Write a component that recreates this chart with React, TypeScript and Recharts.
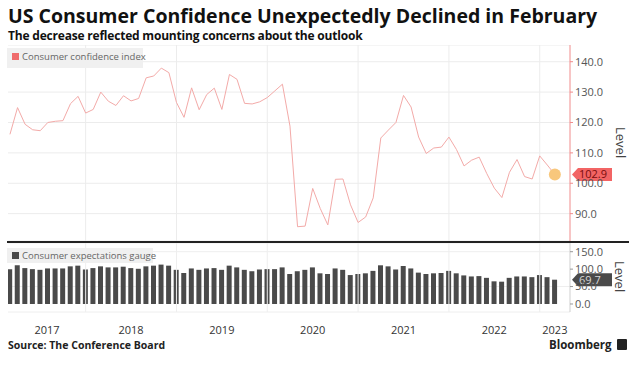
import React from 'react';
import {
    LineChart,
    Line,
    BarChart,
    Bar,
    XAxis,
    YAxis,
    CartesianGrid,
    ReferenceLine,
    ReferenceDot,
} from 'recharts';

// monthly, Feb 2017 .. Feb 2023
const confidence = [
    116.1, 124.9, 119.4, 117.6, 117.3, 120.0, 120.4, 120.6, 126.2, 128.6, 123.1,
    124.3, 130.0, 127.0, 125.6, 128.8, 127.1, 127.9, 134.7, 135.3, 137.9, 136.4, 126.6,
    121.7, 131.4, 124.2, 129.2, 131.3, 124.3, 135.8, 134.2, 126.3, 126.1, 126.8, 128.2,
    130.4, 132.6, 118.8, 85.7, 85.9, 98.3, 91.7, 86.3, 101.3, 101.4, 92.9, 87.1,
    88.9, 95.2, 114.9, 117.5, 120.0, 128.9, 125.1, 115.2, 109.8, 111.6, 111.9, 115.2,
    111.1, 105.7, 107.6, 108.6, 103.2, 98.4, 95.3, 103.6, 107.8, 102.2, 101.4, 109.0,
    106.0, 102.9,
];

const expectations = [
    100, 111, 103, 100, 98, 102, 102, 102, 108, 110, 99, 103, 108, 105, 105, 107, 103, 101, 108,
    110, 113, 110, 98, 89, 102, 98, 102, 103, 98, 110, 105, 98, 94, 99, 100, 100, 105,
    86, 94, 98, 105, 88, 86, 102, 98, 83, 86, 88, 95, 111, 108, 99, 109, 102, 90,
    86, 88, 89, 95, 88, 82, 79, 80, 75, 65, 64, 75, 79, 79, 77, 83, 77, 69.7,
];

const yearLabels = ['2017', '2018', '2019', '2020', '2021', '2022', '2023'];
const yearLabelPos = [4.9, 16, 28, 40, 52, 64, 72];
const yearBreaks = [10, 22, 34, 46, 58, 70]; // December points
const confTicks = [90, 100, 110, 120, 130, 140];
const expTicks = [0, 50, 100, 150];

const data = confidence.map((c, i) => ({ i, conf: c, exp: expectations[i] }));
const last = data.length - 1;

const FONT = '"Open Sans", "DejaVu Sans", sans-serif';
const X_DOMAIN: [number, number] = [-0.26, 74];

const tickStyle = { fill: '#555', fontSize: 11, fontFamily: FONT };

function ValueTag({ cx, cy, value, bg, color }: any) {
    const x = cx + 2;
    return (
        <g>
            <polygon
                points={`${x},${cy} ${x + 6},${cy - 6.5} ${x + 40},${cy - 6.5} ${x + 40},${cy + 6.5} ${x + 6},${cy + 6.5}`}
                fill={bg}
            />
            <text x={x + 7} y={cy + 4} fontSize={11} fontFamily={FONT} fill={color}>
                {value}
            </text>
        </g>
    );
}

export default function App() {
    return (
        <div
            style={{
                position: 'absolute',
                left: 0,
                top: 0,
                width: 642,
                height: 376,
                background: '#fff',
                fontFamily: FONT,
                overflow: 'hidden',
            }}
        >
            <div style={{ position: 'absolute', left: 8, top: 2, fontSize: 19.5, fontWeight: 700, color: '#111', whiteSpace: 'nowrap' }}>
                US Consumer Confidence Unexpectedly Declined in February
            </div>
            <div style={{ position: 'absolute', left: 8, top: 27, fontSize: 12, fontWeight: 700, color: '#111', whiteSpace: 'nowrap', letterSpacing: -0.2 }}>
                The decrease reflected mounting concerns about the outlook
            </div>

            <div style={{ position: 'absolute', left: 0, top: 45 }}>
                <LineChart width={642} height={196} data={data} margin={{ top: 0, right: 0, bottom: 0, left: 8 }}>
                    <CartesianGrid vertical={false} stroke="#ececec" />
                    <XAxis dataKey="i" type="number" domain={X_DOMAIN} hide allowDataOverflow />
                    <YAxis
                        orientation="right"
                        width={72}
                        domain={[81, 145.5]}
                        ticks={confTicks}
                        allowDataOverflow
                        tickFormatter={(v: number) => v.toFixed(1)}
                        tick={tickStyle}
                        axisLine={{ stroke: '#f08c8c' }}
                        tickLine={{ stroke: '#f08c8c' }}
                        tickSize={3}
                        tickMargin={2}
                    />
                    {yearBreaks.map((x) => (
                        <ReferenceLine key={x} x={x} stroke="#ececec" />
                    ))}
                    <Line
                        type="linear"
                        dataKey="conf"
                        stroke="#f3aaa8"
                        strokeWidth={1}
                        dot={false}
                        isAnimationActive={false}
                    />
                    <ReferenceDot x={last} y={confidence[last]} r={6} fill="#f8c77c" stroke="none" />
                    <ReferenceDot
                        x={X_DOMAIN[1]}
                        y={confidence[last]}
                        ifOverflow="visible"
                        shape={(p: any) => (
                            <ValueTag cx={p.cx} cy={p.cy} value={confidence[last].toFixed(1)} bg="#f26464" color="#7a0c0c" />
                        )}
                    />
                </LineChart>
            </div>

            <div style={{ position: 'absolute', left: 7, top: 48, width: 136, height: 20, background: '#f0f0f0', fontSize: 9.5, color: '#666', lineHeight: '18px', whiteSpace: 'nowrap' }}>
                <span style={{ display: 'inline-block', width: 7, height: 7, background: '#ef6b6b', margin: '0 3px 0 5px' }} />
                Consumer confidence index
            </div>

            <div style={{ position: 'absolute', left: 7, top: 241, width: 622, height: 2, background: '#222' }} />

            <div style={{ position: 'absolute', left: 0, top: 243 }}>
                <BarChart width={642} height={99} data={data} margin={{ top: 0, right: 0, bottom: 0, left: 8 }}>
                    <CartesianGrid vertical={false} stroke="#eeeeee" />
                    <XAxis
                        dataKey="i"
                        type="number"
                        domain={X_DOMAIN}
                        allowDataOverflow
                        ticks={yearLabelPos}
                        interval={0}
                        tickFormatter={(v: number) => yearLabels[yearLabelPos.indexOf(v)]}
                        tick={{ fill: '#333', fontSize: 11, fontFamily: FONT }}
                        axisLine={false}
                        tickLine={false}
                        tickSize={0}
                        tickMargin={14}
                        height={30}
                    />
                    <YAxis
                        orientation="right"
                        width={72}
                        domain={[-23, 175]}
                        ticks={expTicks}
                        allowDataOverflow
                        tickFormatter={(v: number) => v.toFixed(1)}
                        tick={tickStyle}
                        axisLine={{ stroke: '#cfcfcf' }}
                        tickLine={{ stroke: '#999' }}
                        tickSize={3}
                        tickMargin={2}
                    />
                    {yearBreaks.map((x) => (
                        <ReferenceLine key={x} x={x} stroke="#eeeeee" />
                    ))}
                    <Bar dataKey="exp" fill="#4a4a4a" barSize={5} isAnimationActive={false} />
                    <ReferenceDot
                        x={X_DOMAIN[1]}
                        y={expectations[last]}
                        ifOverflow="visible"
                        shape={(p: any) => (
                            <ValueTag cx={p.cx} cy={p.cy} value={expectations[last].toFixed(1)} bg="#4a4a4a" color="#d8d8d8" />
                        )}
                    />
                </BarChart>
            </div>

            <div style={{ position: 'absolute', left: 7, top: 248, width: 146, height: 15, background: '#f0f0f0', fontSize: 9.5, color: '#666', lineHeight: '15px', whiteSpace: 'nowrap' }}>
                <span style={{ display: 'inline-block', width: 7, height: 7, background: '#4a4a4a', margin: '0 3px 0 5px' }} />
                Consumer expectations gauge
            </div>

            <div style={{ position: 'absolute', left: 612, top: 127, writingMode: 'vertical-rl', fontSize: 13, color: '#444' }}>Level</div>
            <div style={{ position: 'absolute', left: 611, top: 261, writingMode: 'vertical-rl', fontSize: 13, color: '#444' }}>Level</div>

            <div style={{ position: 'absolute', left: 8, top: 338, fontSize: 10.5, fontWeight: 700, color: '#222', whiteSpace: 'nowrap' }}>
                Source: The Conference Board
            </div>
            <div style={{ position: 'absolute', left: 549, top: 337, fontSize: 11.5, fontWeight: 700, color: '#222', whiteSpace: 'nowrap', display: 'flex', alignItems: 'center' }}>
                Bloomberg
                <span style={{ display: 'inline-block', width: 10, height: 11, background: '#222', marginLeft: 5, borderRadius: 1 }} />
            </div>
        </div>
    );
}
